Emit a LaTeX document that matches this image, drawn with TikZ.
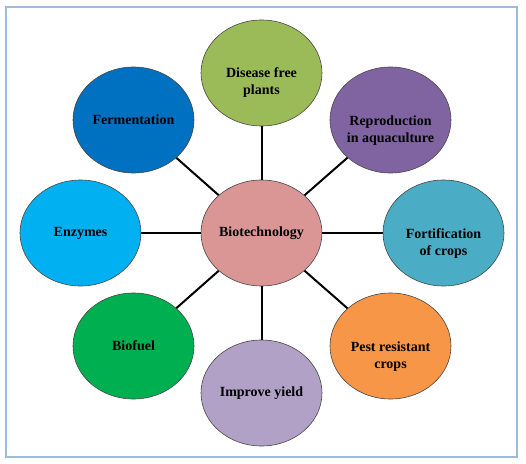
\documentclass[tikz,border=0pt]{standalone}
\usepackage{fontspec}
\setmainfont{Liberation Serif}
\usepackage{tikz}
\usetikzlibrary{shapes.geometric,positioning}
\usepackage{xcolor}
\definecolor{framebluelight}{RGB}{157,185,224}
\definecolor{rimgrey}{RGB}{70,70,70}
\definecolor{hubpink}{RGB}{217,150,148}
\definecolor{leafgreen}{RGB}{155,187,89}
\definecolor{deepblue}{RGB}{0,112,192}
\definecolor{softpurple}{RGB}{128,100,162}
\definecolor{skyblue}{RGB}{0,176,240}
\definecolor{tealblue}{RGB}{75,172,198}
\definecolor{fuelgreen}{RGB}{0,176,80}
\definecolor{softorange}{RGB}{247,150,70}
\definecolor{lilac}{RGB}{178,161,199}

\tikzset{
  bubble/.style={draw=rimgrey, line width=0.6pt, ellipse, minimum width=121pt, minimum height=106pt, inner xsep=-8pt, inner ysep=0pt, align=center, font=\fontsize{14}{17}\selectfont\bfseries},
  twoline/.style={text height=48pt, text depth=4pt},
  spoke/.style={line width=2pt, black}
}

\begin{document}
\begin{tikzpicture}[x=1pt,y=1pt]
\useasboundingbox (-261.5,233) rectangle (264.5,-230);
\draw[framebluelight, line width=1.2pt] (-255.5,226) rectangle (255.5,-224);
\node[bubble, fill=hubpink]     (bio)  at (0,0)        {Biotechnology};
\node[bubble, twoline, fill=leafgreen]   (dfp)  at (0,160)      {Disease free\\plants};
\node[bubble, fill=deepblue]    (ferm) at (-128,113)   {Fermentation};
\node[bubble, twoline, fill=softpurple]  (aqua) at (129,113)    {Reproduction\\in aquaculture};
\node[bubble, fill=skyblue]     (enz)  at (-181,0)     {Enzymes};
\node[bubble, twoline, fill=tealblue]    (fort) at (182,0)      {Fortification\\of crops};
\node[bubble, fill=fuelgreen]   (fuel) at (-128,-113)  {Biofuel};
\node[bubble, twoline, fill=softorange]  (pest) at (129,-113)   {Pest resistant\\crops};
\node[bubble, fill=lilac]       (yld)  at (0,-160)     {Improve yield};
\foreach \t in {dfp,ferm,aqua,enz,fort,fuel,pest,yld}
  \draw[spoke] (bio) -- (\t);
\end{tikzpicture}
\end{document}
